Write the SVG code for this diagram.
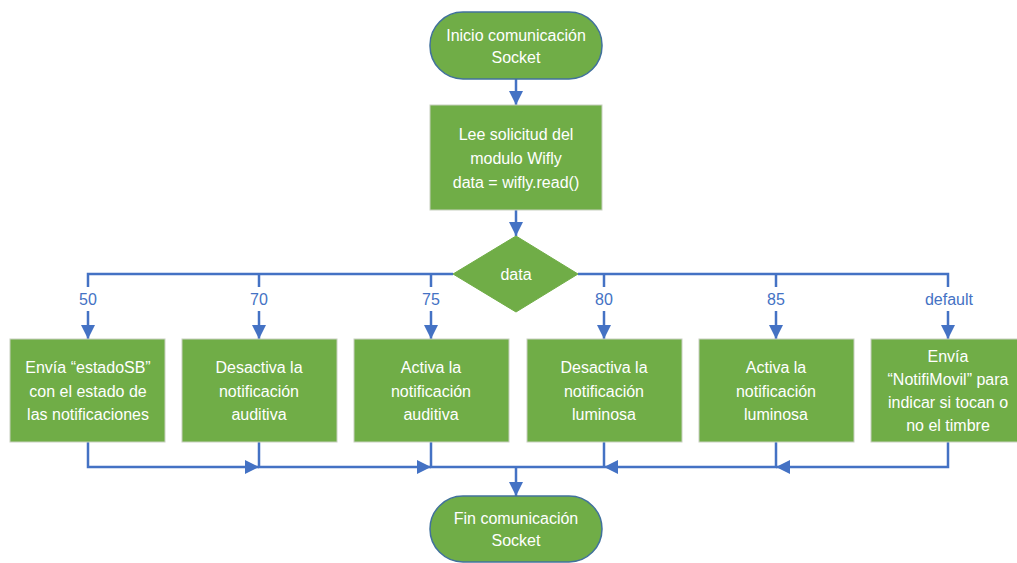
<svg xmlns="http://www.w3.org/2000/svg" width="1017" height="563" viewBox="0 0 1017 563">
  <style>
    .term { fill: #70AD47; stroke: #41719C; stroke-width: 1.5; }
    .proc { fill: #70AD47; stroke: #C8D0C0; stroke-width: 1; }
    .dec { fill: #70AD47; stroke: #70AD47; stroke-width: 1; }
    .txt { font-family: "Liberation Sans", Arial, sans-serif; font-size: 16px; fill: #FFFFFF; text-anchor: middle; }
    .lbl { font-family: "Liberation Sans", Arial, sans-serif; font-size: 16px; fill: #4472C4; text-anchor: middle; }
    .conn { fill: none; stroke: #4472C4; stroke-width: 2.5; }
  </style>
  <defs>
    <marker id="arrow" markerUnits="userSpaceOnUse" markerWidth="14" markerHeight="14" refX="14" refY="7" orient="auto">
      <path d="M0,0 L14,7 L0,14 Z" fill="#4472C4"/>
    </marker>
  </defs>
  <rect width="1017" height="563" fill="#FFFFFF"/>

  <!-- connectors -->
  <g id="connectors">
    <path class="conn" d="M516,79 L516,105" marker-end="url(#arrow)"/>
    <path class="conn" d="M516,210 L516,236" marker-end="url(#arrow)"/>
    <path class="conn" d="M453,274 L88,274 L88,339" marker-end="url(#arrow)"/>
    <path class="conn" d="M259,274 L259,339" marker-end="url(#arrow)"/>
    <path class="conn" d="M431,274 L431,339" marker-end="url(#arrow)"/>
    <path class="conn" d="M578,274 L948,274 L948,339" marker-end="url(#arrow)"/>
    <path class="conn" d="M604,274 L604,339" marker-end="url(#arrow)"/>
    <path class="conn" d="M776,274 L776,339" marker-end="url(#arrow)"/>
    <!-- case labels sit on the vertical drops -->
    <g>
      <rect x="68" y="287" width="40" height="24" fill="#FFFFFF"/>
      <text class="lbl" x="88" y="305">50</text>
      <rect x="239" y="287" width="40" height="24" fill="#FFFFFF"/>
      <text class="lbl" x="259" y="305">70</text>
      <rect x="411" y="287" width="40" height="24" fill="#FFFFFF"/>
      <text class="lbl" x="431" y="305">75</text>
      <rect x="584" y="287" width="40" height="24" fill="#FFFFFF"/>
      <text class="lbl" x="604" y="305">80</text>
      <rect x="756" y="287" width="40" height="24" fill="#FFFFFF"/>
      <text class="lbl" x="776" y="305">85</text>
      <rect x="918" y="287" width="60" height="24" fill="#FFFFFF"/>
      <text class="lbl" x="949" y="305">default</text>
    </g>
    <!-- merge back -->
    <path class="conn" d="M88,442 L88,467 L259,467" marker-end="url(#arrow)"/>
    <path class="conn" d="M259,442 L259,467 L431,467" marker-end="url(#arrow)"/>
    <path class="conn" d="M431,442 L431,467 L604,467"/>
    <path class="conn" d="M948,442 L948,467 L776,467" marker-end="url(#arrow)"/>
    <path class="conn" d="M776,442 L776,467 L604,467" marker-end="url(#arrow)"/>
    <path class="conn" d="M604,442 L604,467"/>
    <path class="conn" d="M516,467 L516,496" marker-end="url(#arrow)"/>
  </g>

  <g id="start">
    <rect class="term" x="430" y="12" width="172" height="67" rx="33" ry="33"/>
    <text class="txt" x="516" y="41">Inicio comunicación</text>
    <text class="txt" x="516" y="63">Socket</text>
  </g>

  <g id="read">
    <rect class="proc" x="430" y="105" width="172" height="105"/>
    <text class="txt" x="516" y="140">Lee solicitud del</text>
    <text class="txt" x="516" y="164">modulo Wifly</text>
    <text class="txt" x="516" y="188">data = wifly.read()</text>
  </g>

  <g id="decision">
    <polygon class="dec" points="516,236 578,274 516,312 453,274"/>
    <text class="txt" x="516" y="280">data</text>
  </g>

  <g id="case50">
    <rect class="proc" x="10" y="339" width="155" height="103"/>
    <text class="txt" x="88" y="373">Envía “estadoSB”</text>
    <text class="txt" x="88" y="397">con el estado de</text>
    <text class="txt" x="88" y="420">las notificaciones</text>
  </g>

  <g id="case70">
    <rect class="proc" x="182" y="339" width="155" height="103"/>
    <text class="txt" x="259" y="373">Desactiva la</text>
    <text class="txt" x="259" y="397">notificación</text>
    <text class="txt" x="259" y="420">auditiva</text>
  </g>

  <g id="case75">
    <rect class="proc" x="354" y="339" width="155" height="103"/>
    <text class="txt" x="431" y="373">Activa la</text>
    <text class="txt" x="431" y="397">notificación</text>
    <text class="txt" x="431" y="420">auditiva</text>
  </g>

  <g id="case80">
    <rect class="proc" x="527" y="339" width="155" height="103"/>
    <text class="txt" x="604" y="373">Desactiva la</text>
    <text class="txt" x="604" y="397">notificación</text>
    <text class="txt" x="604" y="420">luminosa</text>
  </g>

  <g id="case85">
    <rect class="proc" x="699" y="339" width="155" height="103"/>
    <text class="txt" x="776" y="373">Activa la</text>
    <text class="txt" x="776" y="397">notificación</text>
    <text class="txt" x="776" y="420">luminosa</text>
  </g>

  <g id="caseDefault">
    <rect class="proc" x="871" y="339" width="155" height="103"/>
    <text class="txt" x="948" y="362">Envía</text>
    <text class="txt" x="948" y="385">“NotifiMovil” para</text>
    <text class="txt" x="948" y="408">indicar si tocan o</text>
    <text class="txt" x="948" y="431">no el timbre</text>
  </g>

  <g id="end">
    <rect class="term" x="430" y="496" width="172" height="66" rx="33" ry="33"/>
    <text class="txt" x="516" y="524">Fin comunicación</text>
    <text class="txt" x="516" y="546">Socket</text>
  </g>
</svg>
